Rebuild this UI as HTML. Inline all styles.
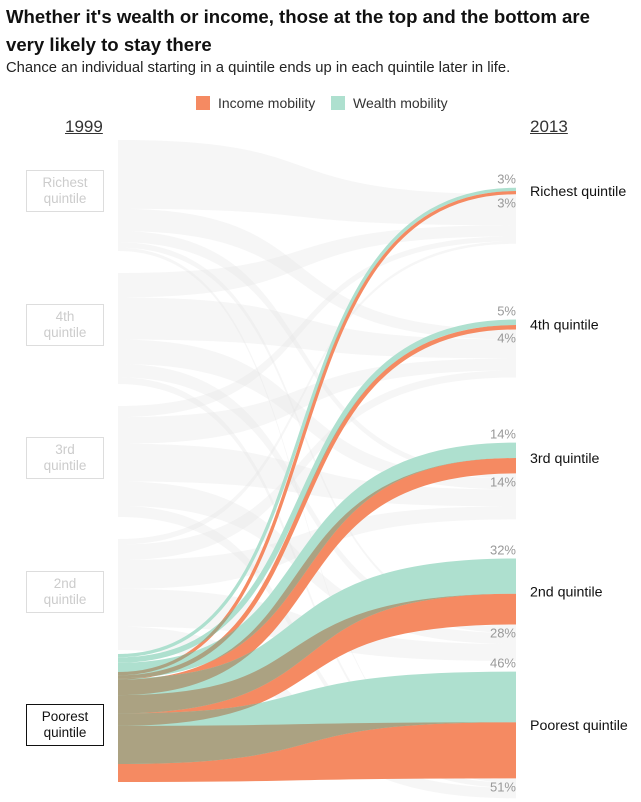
<!DOCTYPE html>
<html><head><meta charset="utf-8"><style>
body{margin:0;background:#fff;font-family:"Liberation Sans",sans-serif;}
#wrap{position:relative;width:641px;height:802px;overflow:hidden;}
.t{position:absolute;white-space:nowrap;}
</style></head><body>
<div id="wrap">
<div class="t" style="left:6px;top:3px;font-size:18.6px;font-weight:bold;line-height:28px;color:#111;">Whether it's wealth or income, those at the top and the bottom are<br>very likely to stay there</div>
<div class="t" style="left:6px;top:60px;font-size:14.8px;color:#222;">Chance an individual starting in a quintile ends up in each quintile later in life.</div>
<div class="t" style="left:196px;top:95px;font-size:14px;color:#333;"><span style="display:inline-block;width:14px;height:14px;background:#f58a62;vertical-align:-2px;margin-right:8px;"></span>Income mobility</div>
<div class="t" style="left:331px;top:95px;font-size:14px;color:#333;"><span style="display:inline-block;width:14px;height:14px;background:#aee0cf;vertical-align:-2px;margin-right:8px;"></span>Wealth mobility</div>
<div class="t" style="left:65px;top:117px;font-size:17px;color:#333;text-decoration:underline;">1999</div>
<div class="t" style="left:530px;top:117px;font-size:17px;color:#333;text-decoration:underline;">2013</div>
<svg id="svg" width="641" height="802" style="position:absolute;left:0;top:0"></svg>
</div>
<script>
const quintiles=["Richest quintile","4th quintile","3rd quintile","2nd quintile","Poorest quintile"];
const leftLabels=["Richest\nquintile","4th\nquintile","3rd\nquintile","2nd\nquintile","Poorest\nquintile"];
const wealthFromPoorest=[3,5,14,32,46];
const incomeFromPoorest=[3,4,14,28,51];
const greyRichest=[62,20,10,5,3];
const grey4th=[22,38,22,12,6];
const grey3rd=[10,24,34,22,10];
const grey2nd=[5,14,26,34,21];
const greyMatrix=[greyRichest,grey4th,grey3rd,grey2nd];

const NS="http://www.w3.org/2000/svg";
const svg=document.getElementById('svg');
const wrap=document.getElementById('wrap');
const S=1.1, LX=118, RX=516, C1=345, C2=255;
const leftTop=i=>140+133*i;
const rightCenter=i=>191+133.5*i;
function mk(tag,attrs){const e=document.createElementNS(NS,tag);for(const k in attrs)e.setAttribute(k,attrs[k]);return e;}
function line(y0,y1){return `M${LX},${y0} C${C1},${y0} ${C2},${y1} ${RX},${y1}`;}
function band(y0,h0,y1,h1){
  return `M${LX},${y0} C${C1},${y0} ${C2},${y1} ${RX},${y1} L${RX},${y1+h1} C${C2},${y1+h1} ${C1},${y0+h0} ${LX},${y0+h0} Z`;
}
const rTop=[],rGrey=[];
for(let d=0;d<5;d++){
  const h=(wealthFromPoorest[d]+incomeFromPoorest[d])*S;
  rTop.push(rightCenter(d)-h/2);
  rGrey.push(rightCenter(d)+h/2);
}
const gG=mk('g',{});svg.appendChild(gG);
for(let o=0;o<4;o++){
  let y=leftTop(o);
  const row=greyMatrix[o];
  const tot=row.reduce((a,b)=>a+b,0);
  for(let d=0;d<5;d++){
    const h0=row[d]/tot*111, h1=row[d]*0.5;
    const p=mk('path',{d:band(y,h0,rGrey[d],h1),fill:'#e6e6e6','fill-opacity':0.35});
    
    
    gG.appendChild(p);
    y+=h0; rGrey[d]+=h1;
  }
}
const wLines=[],iLines=[];
let yw=654, yi=672;
for(let d=0;d<5;d++){
  const hw=wealthFromPoorest[d]*S, hi=incomeFromPoorest[d]*S;
  wLines.push({d:line(yw+hw/2,rTop[d]+hw/2),w:hw});
  iLines.push({d:line(yi+hi/2,rTop[d]+hw+hi/2),w:hi});
  yw+=hw; yi+=hi;
}
const defs=mk('defs',{});svg.appendChild(defs);
const m=mk('mask',{id:'incMask',maskUnits:'userSpaceOnUse',x:0,y:0,width:641,height:802});defs.appendChild(m);
iLines.forEach(o=>m.appendChild(mk('path',{d:o.d,fill:'none',stroke:'#fff','stroke-width':o.w})));
iLines.forEach((o,k)=>{const p=mk('path',{d:o.d,fill:'none',stroke:'#f58a62','stroke-width':o.w});
  
  svg.appendChild(p);});
wLines.forEach((o,k)=>{const p=mk('path',{d:o.d,fill:'none',stroke:'#aee0cf','stroke-width':o.w});
  
  svg.appendChild(p);});
const ov=mk('g',{mask:'url(#incMask)'});svg.appendChild(ov);
wLines.forEach(o=>{const p=mk('path',{d:o.d,fill:'none',stroke:'#aba282','stroke-width':o.w});
  
  ov.appendChild(p);});
function txt(x,y,s,attrs,name){const t=mk('text',Object.assign({x,y,'font-size':13,'font-family':'Liberation Sans, sans-serif'},attrs));t.textContent=s;
  svg.appendChild(t);return t;}
for(let d=0;d<5;d++){
  const hw=wealthFromPoorest[d]*S, hi=incomeFromPoorest[d]*S;
  txt(516,rTop[d]-4,wealthFromPoorest[d]+'%',{fill:'#999','text-anchor':'end'},'wealth-pct-label');
  txt(516,rTop[d]+hw+hi+13,incomeFromPoorest[d]+'%',{fill:'#999','text-anchor':'end'},'income-pct-label');
  txt(530,rightCenter(d)+5,quintiles[d],{fill:'#111','font-size':14.2},'right-quintile-label');
}
for(let i=0;i<5;i++){
  const b=document.createElement('div');
  
  
  const on=i===4;
  b.style.cssText=`position:absolute;left:26px;top:${170+133.5*i}px;width:76px;height:40px;border:1px solid ${on?'#111':'#ddd'};background:#fff;color:${on?'#111':'#ccc'};font-size:13.5px;line-height:16px;text-align:center;display:flex;align-items:center;justify-content:center;white-space:pre;`;
  b.textContent=leftLabels[i];
  wrap.appendChild(b);
}
</script>
</body></html>
